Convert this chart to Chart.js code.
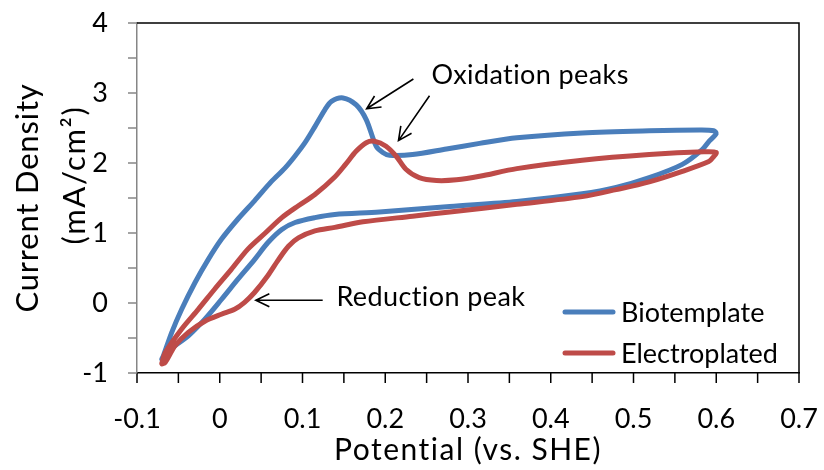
<!DOCTYPE html>
<html lang="en">
<head>
    <meta charset="UTF-8">
    <title>Cyclic voltammetry</title>
    <script src="https://cdn.jsdelivr.net/npm/chart.js"></script>
    <style>
        body {
            margin: 0;
            background: #fff;
        }

        #cv {
            display: block;
        }
    </style>
</head>
<body>
    <canvas id="cv" width="824" height="470"></canvas>

    <script>
        // Biotemplate loop: anodic sweep up to 0.6 V, then back down
        const bioPotential = [-0.070, -0.068, -0.058, -0.046, -0.030, -0.014, 0.002, 0.022, 0.042, 0.062,
            0.079, 0.091, 0.103, 0.115, 0.127, 0.135, 0.149, 0.165, 0.177, 0.189,
            0.197, 0.205, 0.233, 0.274, 0.314, 0.359, 0.438, 0.519, 0.580, 0.597, 0.600,
            0.592, 0.583, 0.559, 0.519, 0.479, 0.438, 0.359, 0.278, 0.193, 0.139,
            0.115, 0.091, 0.075, 0.058, 0.042, 0.022, 0.002, -0.018, -0.038, -0.054, -0.066, -0.070];
        const bioCurrent = [-0.80, -0.75, -0.42, -0.09, 0.29, 0.62, 0.91, 1.20, 1.46, 1.73,
            1.93, 2.10, 2.29, 2.52, 2.76, 2.88, 2.93, 2.83, 2.62, 2.24,
            2.15, 2.11, 2.12, 2.20, 2.28, 2.36, 2.43, 2.46, 2.47, 2.46, 2.42,
            2.32, 2.19, 1.98, 1.79, 1.65, 1.56, 1.45, 1.38, 1.30, 1.265,
            1.22, 1.15, 1.05, 0.86, 0.62, 0.34, 0.05, -0.23, -0.47, -0.61, -0.75, -0.80];

        // Electroplated loop
        const elecPotential = [-0.070, -0.066, -0.046, -0.026, -0.006, 0.014, 0.034, 0.055, 0.075, 0.095,
            0.115, 0.139, 0.152, 0.165, 0.177, 0.187, 0.201, 0.213, 0.225, 0.241,
            0.262, 0.286, 0.314, 0.359, 0.438, 0.519, 0.585, 0.600,
            0.596, 0.591, 0.559, 0.519, 0.479, 0.438, 0.359, 0.278, 0.233, 0.173,
            0.139, 0.115, 0.095, 0.083, 0.071, 0.058, 0.042, 0.030, 0.018, 0.002,
            -0.018, -0.038, -0.054, -0.066, -0.070];
        const elecCurrent = [-0.86, -0.71, -0.37, -0.09, 0.20, 0.48, 0.77, 1.00, 1.22, 1.39,
            1.55, 1.80, 1.98, 2.17, 2.29, 2.31, 2.24, 2.10, 1.91, 1.79,
            1.75, 1.76, 1.81, 1.92, 2.04, 2.12, 2.16, 2.15,
            2.08, 2.02, 1.88, 1.73, 1.62, 1.52, 1.41, 1.30, 1.24, 1.16,
            1.08, 1.03, 0.93, 0.81, 0.62, 0.39, 0.15, 0.01, -0.09, -0.16,
            -0.26, -0.42, -0.61, -0.85, -0.87];

        const seriesNames = ['Biotemplate', 'Electroplated'];
        const xRange = [-0.1, 0.7];
        const yRange = [-1, 4];

        // arrows and notes, in data units (potential, current)
        const arrows = [
            { from: [0.234, 3.20], to: [0.1775, 2.775] },
            { from: [0.2535, 2.96], to: [0.216, 2.32] },
            { from: [0.1244, 0.04], to: [0.0436, 0.04] }
        ];
        const notes = [
            { text: 'Oxidation peaks', at: [0.256, 3.26] },
            { text: 'Reduction peak', at: [0.141, 0.083] }
        ];

        const FONT = 'Lato, "Liberation Sans", sans-serif';
        const BLUE = '#4A7EBB';
        const RED = '#BE4B48';
        const AXIS_GREY = '#868686';

        function toPoints(xs, ys) {
            return xs.map((x, i) => ({ x: x, y: ys[i] }));
        }

        // short tick marks plus the black frame on top and right
        const framePlugin = {
            id: 'frame',
            afterDraw(chart) {
                const { ctx, chartArea: a } = chart;
                const sx = chart.scales.x, sy = chart.scales.y;
                ctx.save();
                ctx.lineWidth = 1.5;

                ctx.strokeStyle = '#000';
                ctx.beginPath();
                sx.ticks.forEach(t => {
                    const px = sx.getPixelForValue(t.value);
                    ctx.moveTo(px, a.bottom);
                    ctx.lineTo(px, a.bottom + 10);
                });
                ctx.stroke();

                ctx.strokeStyle = AXIS_GREY;
                ctx.beginPath();
                sy.ticks.forEach(t => {
                    const py = sy.getPixelForValue(t.value);
                    ctx.moveTo(a.left - 9, py);
                    ctx.lineTo(a.left, py);
                });
                ctx.stroke();

                ctx.strokeStyle = '#000';
                ctx.beginPath();
                ctx.moveTo(a.left, a.top);
                ctx.lineTo(a.right, a.top);
                ctx.lineTo(a.right, a.bottom);
                ctx.stroke();
                ctx.restore();
            }
        };

        // axis titles
        const titlePlugin = {
            id: 'titles',
            afterDraw(chart) {
                const { ctx, chartArea: a } = chart;
                ctx.save();
                ctx.fillStyle = '#000';
                ctx.textAlign = 'center';
                ctx.textBaseline = 'middle';
                ctx.font = '30px ' + FONT;
                ctx.letterSpacing = '1.5px';
                ctx.fillText('Potential (vs. SHE)', (a.left + a.right) / 2, a.bottom + 77);

                ctx.font = '31px ' + FONT;
                ctx.translate(28, (a.top + a.bottom) / 2);
                ctx.rotate(-Math.PI / 2);
                ctx.letterSpacing = '0.8px';
                ctx.fillText('Current Density', 0, 0);
                ctx.letterSpacing = '1.6px';
                ctx.fillText('(mA/cm²)', 23, 47);
                ctx.restore();
            }
        };

        // legend inside the plot, lower right
        const legendPlugin = {
            id: 'innerLegend',
            afterDraw(chart) {
                const { ctx, chartArea: a } = chart;
                ctx.save();
                ctx.font = '27px ' + FONT;
                ctx.textBaseline = 'middle';
                ctx.textAlign = 'left';
                ctx.lineCap = 'round';
                chart.data.datasets.forEach((ds, i) => {
                    const y = a.top + 289 + i * 41;
                    ctx.strokeStyle = ds.borderColor;
                    ctx.lineWidth = 5;
                    ctx.beginPath();
                    ctx.moveTo(a.left + 428, y);
                    ctx.lineTo(a.left + 476, y);
                    ctx.stroke();
                    ctx.fillStyle = '#000';
                    ctx.fillText(ds.label, a.left + 484, y + 1);
                });
                ctx.restore();
            }
        };

        // arrows and notes
        const notePlugin = {
            id: 'notes',
            afterDraw(chart) {
                const { ctx } = chart;
                const sx = chart.scales.x, sy = chart.scales.y;
                ctx.save();
                ctx.strokeStyle = '#000';
                ctx.lineWidth = 1.6;
                arrows.forEach(a => {
                    const x1 = sx.getPixelForValue(a.from[0]), y1 = sy.getPixelForValue(a.from[1]);
                    const x2 = sx.getPixelForValue(a.to[0]), y2 = sy.getPixelForValue(a.to[1]);
                    const ang = Math.atan2(y2 - y1, x2 - x1);
                    const head = 15, spread = 0.45;
                    ctx.beginPath();
                    ctx.moveTo(x1, y1);
                    ctx.lineTo(x2, y2);
                    ctx.moveTo(x2 - head * Math.cos(ang - spread), y2 - head * Math.sin(ang - spread));
                    ctx.lineTo(x2, y2);
                    ctx.lineTo(x2 - head * Math.cos(ang + spread), y2 - head * Math.sin(ang + spread));
                    ctx.stroke();
                });
                ctx.fillStyle = '#000';
                ctx.font = '27px ' + FONT;
                ctx.letterSpacing = '0.4px';
                ctx.textAlign = 'left';
                ctx.textBaseline = 'middle';
                notes.forEach(n => {
                    ctx.fillText(n.text, sx.getPixelForValue(n.at[0]), sy.getPixelForValue(n.at[1]));
                });
                ctx.restore();
            }
        };

        const lineStyle = {
            showLine: true,
            borderWidth: 5,
            pointRadius: 0,
            tension: 0.3,
            borderCapStyle: 'round',
            borderJoinStyle: 'round'
        };

        const ctx = document.getElementById('cv').getContext('2d');
        const cvChart = new Chart(ctx, {
            type: 'scatter',
            data: {
                datasets: [Object.assign({
                    label: seriesNames[0],
                    data: toPoints(bioPotential, bioCurrent),
                    borderColor: BLUE,
                    backgroundColor: BLUE,
                    order: 2
                }, lineStyle), Object.assign({
                    label: seriesNames[1],
                    data: toPoints(elecPotential, elecCurrent),
                    borderColor: RED,
                    backgroundColor: RED,
                    order: 1
                }, lineStyle)]
            },
            options: {
                responsive: false,
                animation: false,
                layout: { padding: { left: 0, right: 25, top: 23, bottom: 0 } },
                scales: {
                    x: {
                        type: 'linear',
                        min: xRange[0],
                        max: xRange[1],
                        afterFit(scale) { scale.height = 97; },
                        ticks: {
                            stepSize: 0.05,
                            maxTicksLimit: 30,
                            autoSkip: false,
                            maxRotation: 0,
                            padding: 0,
                            color: '#000',
                            font: { family: FONT, size: 27 },
                            callback(value) {
                                const h = Math.round(value * 100);
                                return h % 10 === 0 ? String(h / 100) : '';
                            }
                        },
                        // tick space is kept for label spacing; visible ticks come from framePlugin
                        grid: {
                            drawOnChartArea: false,
                            tickLength: 30,
                            tickColor: 'rgba(0,0,0,0)'
                        },
                        border: { color: '#000', width: 1.5 }
                    },
                    y: {
                        min: yRange[0],
                        max: yRange[1],
                        afterFit(scale) { scale.width = 137; },
                        ticks: {
                            stepSize: 0.5,
                            maxTicksLimit: 30,
                            autoSkip: false,
                            padding: 0,
                            color: '#000',
                            font: { family: FONT, size: 27 },
                            callback(value) {
                                const h = Math.round(value * 10);
                                return h % 10 === 0 ? String(h / 10) : '';
                            }
                        },
                        grid: {
                            drawOnChartArea: false,
                            tickLength: 29,
                            tickColor: 'rgba(0,0,0,0)'
                        },
                        border: { color: AXIS_GREY, width: 1.5 }
                    }
                },
                plugins: {
                    legend: { display: false },
                    tooltip: { enabled: false }
                }
            },
            plugins: [framePlugin, titlePlugin, legendPlugin, notePlugin]
        });
    </script>
</body>
</html>
